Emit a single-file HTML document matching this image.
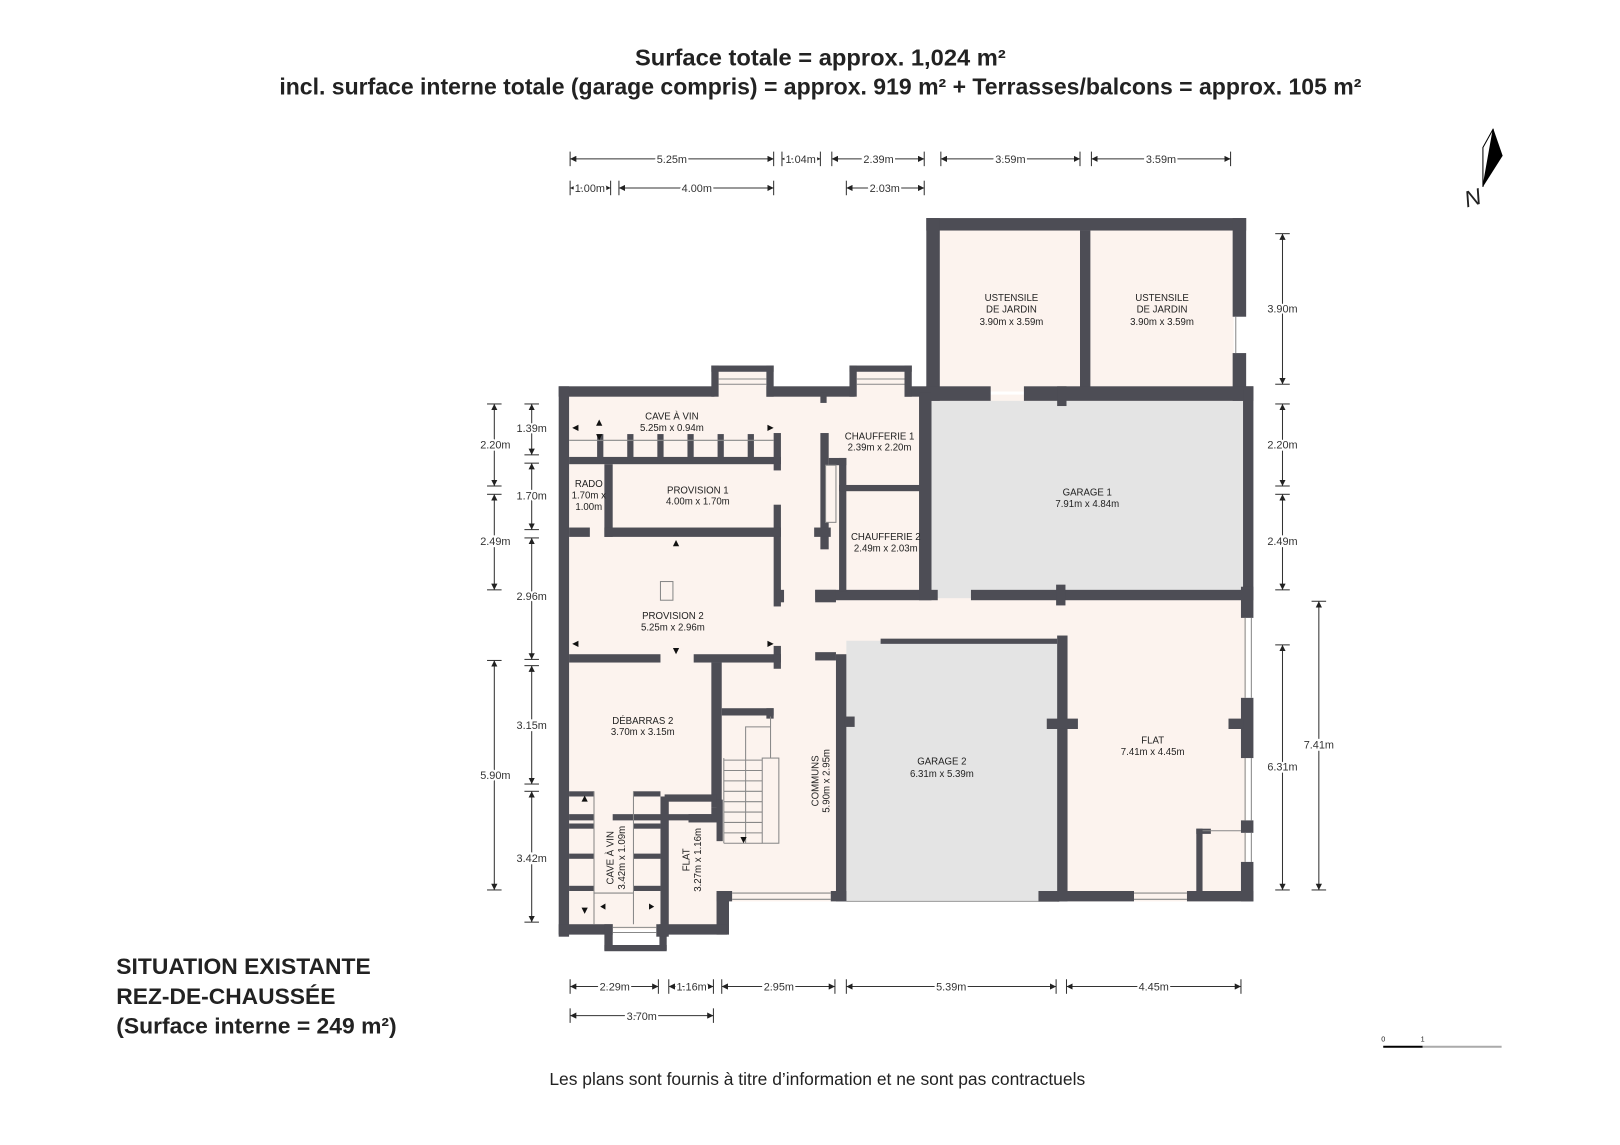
<!DOCTYPE html>
<html><head><meta charset="utf-8"><style>
html,body{margin:0;padding:0;background:#fff}
svg{display:block}
text{font-family:"Liberation Sans",Arial,sans-serif;fill:#222}
.d line{stroke:#333;stroke-width:1}
.d text{font-size:10.5px;text-anchor:middle;stroke:#fff;stroke-width:4;paint-order:stroke;fill:#333}
.w{fill:#4d4d55}
.r{font-size:9.3px;text-anchor:middle;fill:#222}
</style></head><body>
<svg width="1620" height="1145" viewBox="0 0 1560 1102.6" xmlns="http://www.w3.org/2000/svg">
<defs>
<marker id="a" viewBox="0 0 10 10" refX="10" refY="5" markerWidth="6" markerHeight="6" orient="auto-start-reverse"><path d="M0,0L10,5L0,10z" fill="#222"/></marker>
</defs>
<rect width="1560" height="1103" fill="#fff"/>
<text x="790" y="63" font-size="22" font-weight="bold" text-anchor="middle" textLength="357" lengthAdjust="spacingAndGlyphs">Surface totale = approx. 1,024 m²</text>
<text x="790" y="91" font-size="22" font-weight="bold" text-anchor="middle" textLength="1042" lengthAdjust="spacingAndGlyphs">incl. surface interne totale (garage compris) = approx. 919 m² + Terrasses/balcons = approx. 105 m²</text>

<!-- floors -->
<g fill="#fcf3ee">
<rect x="548" y="380" width="652" height="488"/>
<rect x="548" y="860" width="150" height="35"/>
<rect x="905" y="222" width="283" height="155"/>
<rect x="692" y="358" width="46" height="24"/>
<rect x="825" y="358" width="46" height="24"/>
</g>
<g fill="#e4e4e4">
<rect x="897" y="386" width="302" height="190"/>
<rect x="815" y="617" width="205" height="251"/>
</g>
<line x1="815" y1="868" x2="1020" y2="868" stroke="#999" stroke-width="1"/>

<!-- walls -->
<g class="w">
<rect x="538" y="372" width="150" height="10"/>
<rect x="738" y="372" width="85" height="10"/>
<rect x="871" y="372" width="30" height="10"/>
<rect x="685" y="352" width="60" height="6"/><rect x="685" y="352" width="7" height="30"/><rect x="738" y="352" width="7" height="30"/>
<rect x="818" y="352" width="60" height="6"/><rect x="818" y="352" width="7" height="30"/><rect x="871" y="352" width="7" height="30"/>
<rect x="892" y="210" width="308" height="12"/>
<rect x="892" y="210" width="13" height="176"/>
<rect x="1187" y="210" width="13" height="95"/>
<rect x="1187" y="340" width="13" height="46"/>
<rect x="1040" y="222" width="10" height="155"/>
<rect x="892" y="372" width="62" height="14"/>
<rect x="986" y="372" width="221" height="14"/>
<rect x="1018" y="372" width="9" height="19"/>
<rect x="1197" y="372" width="10" height="206"/>
<rect x="1195" y="565" width="12" height="30"/>
<rect x="1195" y="672" width="12" height="58"/>
<rect x="1195" y="790" width="12" height="12"/>
<rect x="1195" y="830" width="12" height="38"/>
<rect x="538" y="372" width="10" height="530"/>
<rect x="785" y="568" width="118" height="10"/>
<rect x="935" y="568" width="270" height="10"/>
<rect x="1017" y="563" width="9" height="20"/>
<rect x="805" y="630" width="10" height="238"/>
<rect x="785" y="628" width="20" height="8"/>
<rect x="813" y="690" width="10" height="10"/>
<rect x="848" y="615" width="170" height="5"/>
<rect x="1018" y="612" width="10" height="256"/>
<rect x="1008" y="692" width="30" height="10"/>
<rect x="1183" y="692" width="14" height="10"/>
<rect x="1000" y="858" width="92" height="10"/>
<rect x="1143" y="858" width="64" height="10"/>
<rect x="1152" y="798" width="6" height="62"/>
<rect x="1152" y="798" width="14" height="5"/>
<rect x="690" y="858" width="15" height="10"/>
<rect x="800" y="858" width="15" height="10"/>
<rect x="538" y="890" width="52" height="10"/>
<rect x="632" y="890" width="10" height="12"/>
<rect x="690" y="860" width="12" height="40"/>
<rect x="640" y="890" width="60" height="10"/>
<rect x="582" y="890" width="8" height="25"/>
<rect x="582" y="910" width="60" height="6"/>
<rect x="635" y="890" width="7" height="25"/>
<rect x="548" y="440" width="204" height="7"/>
<rect x="575" y="418" width="6" height="25"/><rect x="604" y="418" width="6" height="25"/><rect x="633" y="418" width="6" height="25"/><rect x="662" y="418" width="6" height="25"/><rect x="691" y="418" width="6" height="25"/><rect x="720" y="418" width="6" height="25"/>
<rect x="745" y="417" width="7" height="36"/>
<rect x="745" y="486" width="7" height="98"/>
<rect x="745" y="622" width="7" height="14"/>
<rect x="582" y="447" width="8" height="70"/>
<rect x="548" y="508" width="20" height="9"/>
<rect x="582" y="508" width="170" height="9"/>
<rect x="748" y="568" width="7" height="12"/>
<rect x="790" y="417" width="8" height="112"/>
<rect x="784" y="508" width="16" height="9"/>
<rect x="808" y="441" width="7" height="129"/>
<rect x="798" y="441" width="17" height="7"/>
<rect x="808" y="467" width="84" height="6"/>
<rect x="790" y="378" width="6" height="10"/>
<rect x="785" y="568" width="20" height="12"/>
<rect x="885" y="378" width="12" height="200"/>
<rect x="548" y="630" width="88" height="8"/>
<rect x="668" y="630" width="84" height="8"/>
<rect x="745" y="630" width="7" height="14"/>
<rect x="685" y="638" width="10" height="140"/>
<rect x="695" y="682" width="50" height="7"/>
<rect x="738" y="682" width="7" height="10"/>
<rect x="548" y="784" width="24" height="6"/>
<rect x="590" y="784" width="95" height="6"/>
<rect x="663" y="784" width="32" height="8"/>
<rect x="636" y="767" width="8" height="135"/>
<rect x="640" y="765" width="50" height="7"/>
<rect x="685" y="778" width="8" height="12"/>
<rect x="548" y="762" width="24" height="5"/><rect x="610" y="762" width="26" height="5"/>
<rect x="548" y="793" width="24" height="5"/><rect x="610" y="793" width="26" height="5"/>
<rect x="548" y="822" width="24" height="5"/><rect x="610" y="822" width="26" height="5"/>
<rect x="548" y="853" width="24" height="5"/><rect x="610" y="853" width="26" height="5"/>
<rect x="690" y="770" width="6" height="40"/>
</g>
<g stroke="#888" stroke-width="1" fill="none">
<line x1="548" y1="424" x2="745" y2="424"/>
<line x1="692" y1="365" x2="738" y2="365"/><line x1="692" y1="370" x2="738" y2="370"/>
<line x1="825" y1="365" x2="871" y2="365"/><line x1="825" y1="370" x2="871" y2="370"/>
<line x1="572" y1="762" x2="572" y2="890"/><line x1="610" y1="762" x2="610" y2="890"/>
<line x1="572" y1="860" x2="610" y2="860"/>
<rect x="636" y="560" width="12" height="18"/>
<rect x="734" y="730" width="16" height="82"/>
<line x1="742" y1="690" x2="742" y2="730"/>
<polyline points="742,700 718,700 718,812"/>
<line x1="697" y1="732" x2="734" y2="732"/><line x1="697" y1="742" x2="734" y2="742"/><line x1="697" y1="752" x2="734" y2="752"/><line x1="697" y1="762" x2="734" y2="762"/><line x1="697" y1="772" x2="734" y2="772"/><line x1="697" y1="782" x2="734" y2="782"/><line x1="697" y1="792" x2="734" y2="792"/><line x1="697" y1="802" x2="734" y2="802"/><line x1="697" y1="812" x2="734" y2="812"/>
<line x1="697" y1="730" x2="697" y2="812"/>
<rect x="795" y="448" width="10" height="55" fill="#fcf3ee"/>
<line x1="705" y1="860" x2="800" y2="860"/><line x1="705" y1="866" x2="800" y2="866"/>
<line x1="1092" y1="860" x2="1143" y2="860"/><line x1="1092" y1="866" x2="1143" y2="866"/>
<line x1="590" y1="893" x2="632" y2="893"/><line x1="590" y1="898" x2="632" y2="898"/>
<line x1="1199" y1="595" x2="1199" y2="672"/><line x1="1205" y1="595" x2="1205" y2="672"/>
<line x1="1199" y1="730" x2="1199" y2="790"/><line x1="1205" y1="730" x2="1205" y2="790"/>
<line x1="1199" y1="802" x2="1199" y2="830"/><line x1="1205" y1="802" x2="1205" y2="830"/>
<line x1="1158" y1="800" x2="1195" y2="800"/>
<line x1="1190" y1="305" x2="1190" y2="340"/>
</g>
<g fill="#111">
<path d="M551,412l6,-3v6z"/><path d="M745,412l-6,-3v6z"/>
<path d="M577,404l-3,6h6z"/><path d="M577,424l-3,-6h6z"/>
<path d="M651,520l-3,6h6z"/><path d="M551,620l6,-3v6z"/><path d="M745,620l-6,-3v6z"/><path d="M651,630l-3,-6h6z"/>
<path d="M563,766l-3,6h6z"/><path d="M563,880l-3,-6h6z"/><path d="M578,873l5,-3v6z"/><path d="M630,873l-5,-3v6z"/>
<path d="M716,812l-3,-6h6z"/>
</g>

<text class="r" x="647" y="404">CAVE À VIN</text><text class="r" x="647" y="415">5.25m x 0.94m</text>
<text class="r" x="847" y="423">CHAUFFERIE 1</text><text class="r" x="847" y="434">2.39m x 2.20m</text>
<text class="r" x="567" y="469">RADO</text><text class="r" x="567" y="480">1.70m x</text><text class="r" x="567" y="491">1.00m</text>
<text class="r" x="672" y="475">PROVISION 1</text><text class="r" x="672" y="486">4.00m x 1.70m</text>
<text class="r" x="853" y="520">CHAUFFERIE 2</text><text class="r" x="853" y="531">2.49m x 2.03m</text>
<text class="r" x="1047" y="477">GARAGE 1</text><text class="r" x="1047" y="488">7.91m x 4.84m</text>
<text class="r" x="974" y="290">USTENSILE</text><text class="r" x="974" y="301">DE JARDIN</text><text class="r" x="974" y="313">3.90m x 3.59m</text>
<text class="r" x="1119" y="290">USTENSILE</text><text class="r" x="1119" y="301">DE JARDIN</text><text class="r" x="1119" y="313">3.90m x 3.59m</text>
<text class="r" x="648" y="596">PROVISION 2</text><text class="r" x="648" y="607">5.25m x 2.96m</text>
<text class="r" x="619" y="697">DÉBARRAS 2</text><text class="r" x="619" y="708">3.70m x 3.15m</text>
<text class="r" x="907" y="736">GARAGE 2</text><text class="r" x="907" y="748">6.31m x 5.39m</text>
<text class="r" x="1110" y="716">FLAT</text><text class="r" x="1110" y="727">7.41m x 4.45m</text>
<text class="r" transform="translate(788,752) rotate(-90)">COMMUNS</text><text class="r" transform="translate(799,752) rotate(-90)">5.90m x 2.95m</text>
<text class="r" transform="translate(591,826) rotate(-90)">CAVE À VIN</text><text class="r" transform="translate(602,826) rotate(-90)">3.42m x 1.09m</text>
<text class="r" transform="translate(664,828) rotate(-90)">FLAT</text><text class="r" transform="translate(675,828) rotate(-90)">3.27m x 1.16m</text>

<g class="d">
<g marker-start="url(#a)" marker-end="url(#a)">
<line x1="549" y1="153" x2="745" y2="153"/><line x1="753" y1="153" x2="790" y2="153"/><line x1="801" y1="153" x2="890" y2="153"/><line x1="906" y1="153" x2="1040" y2="153"/><line x1="1051" y1="153" x2="1185" y2="153"/>
<line x1="549" y1="181" x2="588" y2="181"/><line x1="596" y1="181" x2="745" y2="181"/><line x1="815" y1="181" x2="890" y2="181"/>
<line x1="476" y1="389" x2="476" y2="468"/><line x1="476" y1="476" x2="476" y2="568"/><line x1="476" y1="636" x2="476" y2="857"/>
<line x1="512" y1="389" x2="512" y2="438"/><line x1="512" y1="446" x2="512" y2="510"/><line x1="512" y1="518" x2="512" y2="635"/><line x1="512" y1="641" x2="512" y2="755"/><line x1="512" y1="762" x2="512" y2="888"/>
<line x1="1235" y1="225" x2="1235" y2="370"/><line x1="1235" y1="389" x2="1235" y2="468"/><line x1="1235" y1="476" x2="1235" y2="568"/><line x1="1235" y1="621" x2="1235" y2="857"/>
<line x1="1270" y1="579" x2="1270" y2="857"/>
<line x1="549" y1="950" x2="634" y2="950"/><line x1="644" y1="950" x2="687" y2="950"/><line x1="695" y1="950" x2="804" y2="950"/><line x1="815" y1="950" x2="1017" y2="950"/><line x1="1027" y1="950" x2="1195" y2="950"/>
<line x1="549" y1="978" x2="687" y2="978"/>
</g>
<g>
<line x1="549" y1="146" x2="549" y2="160"/><line x1="745" y1="146" x2="745" y2="160"/><line x1="753" y1="146" x2="753" y2="160"/><line x1="790" y1="146" x2="790" y2="160"/><line x1="801" y1="146" x2="801" y2="160"/><line x1="890" y1="146" x2="890" y2="160"/><line x1="906" y1="146" x2="906" y2="160"/><line x1="1040" y1="146" x2="1040" y2="160"/><line x1="1051" y1="146" x2="1051" y2="160"/><line x1="1185" y1="146" x2="1185" y2="160"/>
<line x1="549" y1="174" x2="549" y2="188"/><line x1="588" y1="174" x2="588" y2="188"/><line x1="596" y1="174" x2="596" y2="188"/><line x1="745" y1="174" x2="745" y2="188"/><line x1="815" y1="174" x2="815" y2="188"/><line x1="890" y1="174" x2="890" y2="188"/>
<line x1="469" y1="389" x2="483" y2="389"/><line x1="469" y1="468" x2="483" y2="468"/><line x1="469" y1="476" x2="483" y2="476"/><line x1="469" y1="568" x2="483" y2="568"/><line x1="469" y1="636" x2="483" y2="636"/><line x1="469" y1="857" x2="483" y2="857"/>
<line x1="505" y1="389" x2="519" y2="389"/><line x1="505" y1="438" x2="519" y2="438"/><line x1="505" y1="446" x2="519" y2="446"/><line x1="505" y1="510" x2="519" y2="510"/><line x1="505" y1="518" x2="519" y2="518"/><line x1="505" y1="635" x2="519" y2="635"/><line x1="505" y1="641" x2="519" y2="641"/><line x1="505" y1="755" x2="519" y2="755"/><line x1="505" y1="762" x2="519" y2="762"/><line x1="505" y1="888" x2="519" y2="888"/>
<line x1="1228" y1="225" x2="1242" y2="225"/><line x1="1228" y1="370" x2="1242" y2="370"/><line x1="1228" y1="389" x2="1242" y2="389"/><line x1="1228" y1="468" x2="1242" y2="468"/><line x1="1228" y1="476" x2="1242" y2="476"/><line x1="1228" y1="568" x2="1242" y2="568"/><line x1="1228" y1="621" x2="1242" y2="621"/><line x1="1228" y1="857" x2="1242" y2="857"/>
<line x1="1263" y1="579" x2="1277" y2="579"/><line x1="1263" y1="857" x2="1277" y2="857"/>
<line x1="549" y1="943" x2="549" y2="957"/><line x1="634" y1="943" x2="634" y2="957"/><line x1="644" y1="943" x2="644" y2="957"/><line x1="687" y1="943" x2="687" y2="957"/><line x1="695" y1="943" x2="695" y2="957"/><line x1="804" y1="943" x2="804" y2="957"/><line x1="815" y1="943" x2="815" y2="957"/><line x1="1017" y1="943" x2="1017" y2="957"/><line x1="1027" y1="943" x2="1027" y2="957"/><line x1="1195" y1="943" x2="1195" y2="957"/>
<line x1="549" y1="971" x2="549" y2="985"/><line x1="687" y1="971" x2="687" y2="985"/>
</g>
<text x="647" y="157">5.25m</text><text x="771" y="157">1.04m</text><text x="846" y="157">2.39m</text><text x="973" y="157">3.59m</text><text x="1118" y="157">3.59m</text>
<text x="568" y="185">1.00m</text><text x="671" y="185">4.00m</text><text x="852" y="185">2.03m</text>
<text x="477" y="432">2.20m</text><text x="477" y="525">2.49m</text><text x="477" y="750">5.90m</text>
<text x="512" y="416">1.39m</text><text x="512" y="481">1.70m</text><text x="512" y="578">2.96m</text><text x="512" y="702">3.15m</text><text x="512" y="830">3.42m</text>
<text x="1235" y="301">3.90m</text><text x="1235" y="432">2.20m</text><text x="1235" y="525">2.49m</text><text x="1235" y="742">6.31m</text><text x="1270" y="721">7.41m</text>
<text x="592" y="954">2.29m</text><text x="666" y="954">1.16m</text><text x="750" y="954">2.95m</text><text x="916" y="954">5.39m</text><text x="1111" y="954">4.45m</text>
<text x="618" y="982">3.70m</text>
</g>

<path d="M1438,124 L1428,142 L1428,180 Z" fill="#fff" stroke="#000" stroke-width="1"/>
<path d="M1438,124 L1447,150 L1428,180 Z" fill="#000"/>
<text x="1418" y="198" font-size="22" font-style="italic" text-anchor="middle" fill="#000" transform="rotate(-15 1418 190)">N</text>

<text x="112" y="938" font-size="21.5" font-weight="bold" textLength="245" lengthAdjust="spacingAndGlyphs">SITUATION EXISTANTE</text>
<text x="112" y="967" font-size="21.5" font-weight="bold" textLength="211" lengthAdjust="spacingAndGlyphs">REZ-DE-CHAUSSÉE</text>
<text x="112" y="995" font-size="21.5" font-weight="bold" textLength="270" lengthAdjust="spacingAndGlyphs">(Surface interne = 249 m²)</text>
<text x="787" y="1045" font-size="16.5" text-anchor="middle" textLength="516" lengthAdjust="spacingAndGlyphs">Les plans sont fournis à titre d’information et ne sont pas contractuels</text>

<line x1="1332" y1="1008" x2="1370" y2="1008" stroke="#000" stroke-width="2"/>
<line x1="1370" y1="1008" x2="1446" y2="1008" stroke="#aaa" stroke-width="2"/>
<text x="1332" y="1003" font-size="7" text-anchor="middle">0</text>
<text x="1370" y="1003" font-size="7" text-anchor="middle">1</text>
</svg>
</body></html>
